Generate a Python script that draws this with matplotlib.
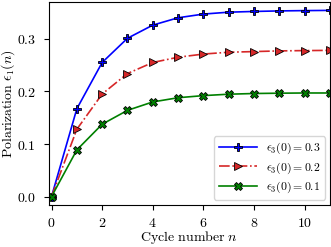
import matplotlib
matplotlib.use("Agg")
import matplotlib.pyplot as plt
from matplotlib.ticker import FuncFormatter

# dados
ciclos = list(range(12))
pol_03 = [0.0, 0.167, 0.255, 0.301, 0.326, 0.340, 0.347, 0.3506, 0.352, 0.353, 0.3536, 0.354]
pol_02 = [0.0, 0.128, 0.195, 0.234, 0.255, 0.265, 0.271, 0.2745, 0.2757, 0.277, 0.2776, 0.278]
pol_01 = [0.0, 0.0888, 0.1376, 0.164, 0.180, 0.188, 0.192, 0.1947, 0.196, 0.1966, 0.197, 0.197]
rotulos = [r"$\epsilon_3(0) = 0.3$", r"$\epsilon_3(0) = 0.2$", r"$\epsilon_3(0) = 0.1$"]

plt.rcParams["mathtext.fontset"] = "cm"
plt.rcParams["font.family"] = "serif"
plt.rcParams["font.serif"] = ["DejaVu Serif"]

fig = plt.figure(figsize=(3.31, 2.47), dpi=100)
ax = fig.add_axes([0.148, 0.172, 0.849, 0.82])

estilo = dict(markeredgecolor="black", markeredgewidth=0.6, linewidth=1.2)
ax.plot(ciclos, pol_03, "-", color="#0000ff", marker="P", markersize=6.2,
        label=rotulos[0], **estilo)
ax.plot(ciclos, pol_02, "-.", color="#d62728", marker=">", markersize=5.8,
        label=rotulos[1], **estilo)
ax.plot(ciclos, pol_01, "-", color="#008000", marker="X", markersize=5.8,
        label=rotulos[2], **estilo)

ax.set_xlim(-0.1, 11)
ax.set_ylim(-0.015, 0.37)
ax.set_xticks([0, 2, 4, 6, 8, 10])
ax.set_yticks([0.0, 0.1, 0.2, 0.3])
ax.xaxis.set_major_formatter(FuncFormatter(lambda v, p: f"${v:.0f}$"))
ax.yaxis.set_major_formatter(FuncFormatter(lambda v, p: f"${v:.1f}$"))
ax.tick_params(labelsize=10, direction="out", length=3.5)
ax.tick_params(axis="x", pad=5)
ax.tick_params(axis="y", pad=6)

ax.set_xlabel(r"$\mathrm{Cycle\ number}\ n$", fontsize=10, labelpad=-1)
ax.set_ylabel(r"$\mathrm{Polarization}\ \epsilon_1(n)$", fontsize=10, labelpad=0)

ax.legend(loc="lower right", fontsize=8.5, borderaxespad=0.4,
          handlelength=3.2, handletextpad=0.8, labelspacing=0.35)

fig.savefig("out.png", dpi=100)
